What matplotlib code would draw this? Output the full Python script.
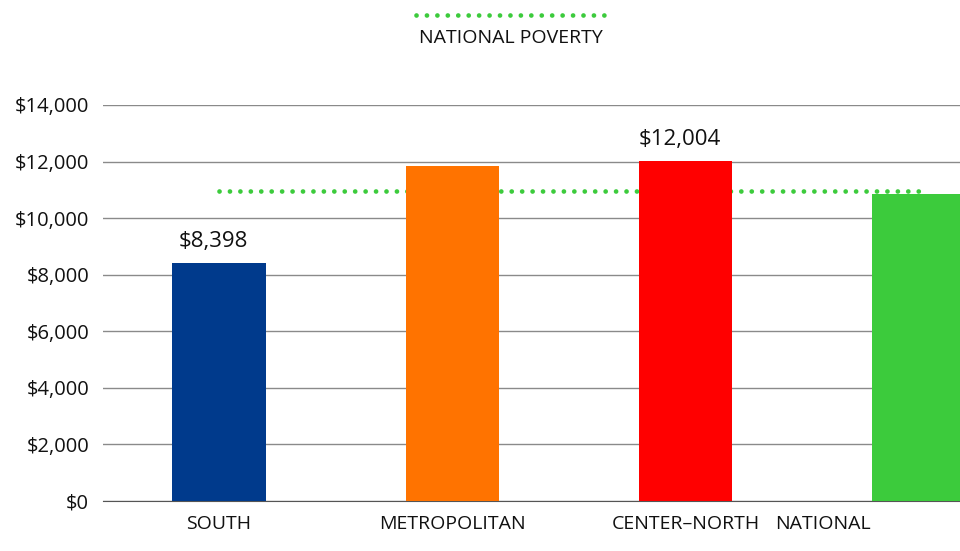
"""Revenu par region - barres avec ligne de pauvrete nationale."""
import matplotlib
matplotlib.use("Agg")
import matplotlib.pyplot as plt
from matplotlib.lines import Line2D

# --- Donnees ---
regions = ["SOUTH", "METROPOLITAN", "CENTER\u2013NORTH", "NATIONAL"]
valeurs = [8398, 11850, 12004, 10840]
etiquettes = {0: "$8,398", 2: "$12,004"}
pauvrete_nationale = 10950
couleurs = ["#003A8C", "#FF7300", "#FF0000", "#3CCB3C"]
yticks = [0, 2000, 4000, 6000, 8000, 10000, 12000, 14000]

VERT = "#3CCB3C"
FONT = ["Open Sans", "DejaVu Sans"]

fig = plt.figure(figsize=(9.6, 5.51), dpi=100)
ax = fig.add_axes([103 / 960, 50 / 551, 857 / 960, 396 / 551])

x = list(range(len(regions)))
ax.bar(x, valeurs, width=0.40, color=couleurs, zorder=3)

# ligne de pauvrete (derriere les barres)
ax.plot([x[0], x[-1]], [pauvrete_nationale] * 2, color=VERT, lw=3.4,
        linestyle=(0, (0.01, 2.2)), dash_capstyle="round", zorder=2)

for i, txt in etiquettes.items():
    ax.annotate(txt, (x[i], valeurs[i]), xytext=(-4, 8),
                textcoords="offset points", ha="center", va="bottom",
                fontsize=16, family=FONT, color="#111111")

ax.set_xlim(-0.497, 3.176)
ax.set_ylim(0, 14000)
ax.set_yticks(yticks)
ax.set_yticklabels([f"${v:,}" for v in yticks], family=FONT, fontsize=14.5,
                   color="#111111")
ax.grid(axis="y", color="#8a8a8a", lw=1, zorder=0)
ax.set_axisbelow(True)
ax.tick_params(axis="both", length=0, pad=10)
for s in ["top", "right", "left"]:
    ax.spines[s].set_visible(False)
ax.spines["bottom"].set_color("#555555")

# etiquettes categories (NATIONAL cale a gauche de sa barre)
ax.set_xticks([0, 1, 2, 2.795])
ax.set_xticklabels(regions, family=FONT, fontsize=14, color="#111111")
ax.get_xticklabels()[3].set_horizontalalignment("right")
ax.tick_params(axis="x", pad=10)

# legende en haut
fig.add_artist(Line2D([416 / 960, 604 / 960], [1 - 15 / 551] * 2,
                      transform=fig.transFigure, color=VERT, lw=3.4,
                      linestyle=(0, (0.01, 2.2)), dash_capstyle="round"))
fig.text(511 / 960, 1 - 38 / 551, "NATIONAL POVERTY", ha="center",
         va="center", fontsize=14, family=FONT, color="#111111")

fig.savefig("out.png", dpi=100, facecolor="white")
